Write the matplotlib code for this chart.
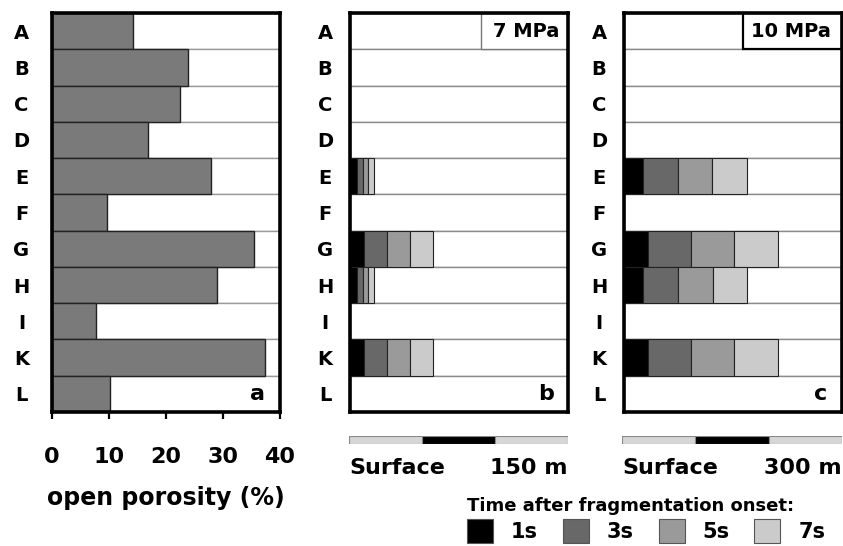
import numpy as np
import matplotlib
matplotlib.use("Agg")
import matplotlib.pyplot as plt
from matplotlib.patches import Patch, Rectangle
import matplotlib.transforms as mtransforms

plt.rcParams['font.family'] = ['DejaVu Sans']
plt.rcParams['font.weight'] = 'bold'
plt.rcParams['axes.labelweight'] = 'bold'

# samples (no J)
rows = ['A', 'B', 'C', 'D', 'E', 'F', 'G', 'H', 'I', 'K', 'L']
porosity = [14.2, 23.9, 22.5, 16.8, 27.9, 9.6, 35.4, 28.9, 7.7, 37.4, 10.2]
porosity_ticks = [0, 10, 20, 30, 40]

# fragmentation front position (m) after each time step
times = ['1s', '3s', '5s', '7s']
front_7mpa_1s = [0, 0, 0, 0, 4.8, 0, 9.6, 4.8, 0, 9.6, 0]
front_7mpa_3s = [0, 0, 0, 0, 9.0, 0, 25.5, 9.0, 0, 25.5, 0]
front_7mpa_5s = [0, 0, 0, 0, 12.4, 0, 41.0, 12.4, 0, 41.0, 0]
front_7mpa_7s = [0, 0, 0, 0, 16.5, 0, 57.0, 16.5, 0, 57.0, 0]
front_10mpa_1s = [0, 0, 0, 0, 26, 0, 33, 26, 0, 33, 0]
front_10mpa_3s = [0, 0, 0, 0, 74, 0, 92, 74, 0, 92, 0]
front_10mpa_5s = [0, 0, 0, 0, 121, 0, 151, 122, 0, 151, 0]
front_10mpa_7s = [0, 0, 0, 0, 169, 0, 212, 169, 0, 212, 0]

# scale bars (m)
scale_7mpa = [0, 50, 100, 150]
scale_10mpa = [0, 100, 200, 300]

time_colors = ['#000000', '#686868', '#9a9a9a', '#cbcbcb']
W, H = 843, 546
fig = plt.figure(figsize=(W / 100, H / 100), dpi=100)


def px_axes(x0, y0, x1, y1):
    return fig.add_axes([x0 / W, 1 - y1 / H, (x1 - x0) / W, (y1 - y0) / H])


def setup_rows(ax, pad):
    y = np.arange(len(rows))
    ax.set_ylim(len(rows) - 0.5, -0.5)
    ax.set_yticks(y, rows)
    ax.tick_params(axis='y', length=0, pad=pad, labelsize=14)
    for t in ax.get_yticklabels():
        t.set_ha('center')
    for s in ax.spines.values():
        s.set_linewidth(2.6)
        s.set_color('black')
        s.set_zorder(5)
    return y


# ---- panel a: open porosity
ax_a = px_axes(52, 13, 280, 412)
y = setup_rows(ax_a, 22)
ax_a.set_xlim(porosity_ticks[0], porosity_ticks[-1])
ax_a.barh(y, porosity_ticks[-1], height=1, color='white', edgecolor='#9a9a9a', lw=1)
ax_a.barh(y, porosity, height=1, color='#7a7a7a', edgecolor='#222222', lw=1)
ax_a.set_xticks(porosity_ticks)
ax_a.tick_params(axis='x', direction='out', length=5, width=1.6, pad=20, labelsize=16)
ax_a.set_xlabel('open porosity (%)', fontsize=17, fontweight='bold', labelpad=14)
ax_a.text(0.9, len(rows) - 1, 'a', transform=mtransforms.blended_transform_factory(ax_a.transAxes, ax_a.transData),
          ha='center', va='center', fontsize=16)


def frag_panel(ax, fronts, scale, label, box_x, box_edge, box_lw, text_x, letter):
    y = setup_rows(ax, 18)
    xmax = scale[-1]
    ax.set_xlim(0, xmax)
    ax.set_xticks([])
    ax.barh(y, xmax, height=1, color='white', edgecolor='#8a8a8a', lw=1)
    prev = np.zeros(len(rows))
    for front, c in zip(fronts, time_colors):
        front = np.array(front, dtype=float)
        m = front > 0
        ax.barh(y[m], (front - prev)[m], left=prev[m], height=1, color=c, edgecolor='#222222', lw=0.8)
        prev = front
    tr = mtransforms.blended_transform_factory(ax.transAxes, ax.transData)
    ax.add_patch(Rectangle((box_x, -0.5), 1 - box_x, 1, transform=tr, facecolor='white',
                           edgecolor=box_edge, lw=box_lw, zorder=4))
    ax.text(text_x, 0, label, transform=tr, ha='center', va='center', fontsize=14, zorder=6)
    ax.text(0.9, len(rows) - 1, letter, transform=tr, ha='center', va='center', fontsize=16)


def scale_bar(ax, scale, right_label):
    ax.set_xlim(scale[0], scale[-1])
    ax.set_ylim(-0.5, 0.5)
    lefts = scale[:-1]
    widths = np.diff(scale)
    ax.barh(0, widths, left=lefts, height=1, color=['#d6d6d6', 'black', '#d6d6d6'], edgecolor='#888888', lw=0.8)
    ax.axis('off')
    ax.annotate('Surface', xy=(0, 0), xycoords='axes fraction', xytext=(0, -10), textcoords='offset points',
                ha='left', va='top', fontsize=16)
    ax.annotate(right_label, xy=(1, 0), xycoords='axes fraction', xytext=(0, -10), textcoords='offset points',
                ha='right', va='top', fontsize=16)


# ---- panel b: 7 MPa
ax_b = px_axes(350, 13, 568, 412)
frag_panel(ax_b, [front_7mpa_1s, front_7mpa_3s, front_7mpa_5s, front_7mpa_7s], scale_7mpa,
           '7 MPa', 0.6, '#777777', 1.0, 0.807, 'b')
scale_bar(px_axes(349, 436, 568, 444), scale_7mpa, '150 m')

# ---- panel c: 10 MPa
ax_c = px_axes(624, 13, 842, 412)
frag_panel(ax_c, [front_10mpa_1s, front_10mpa_3s, front_10mpa_5s, front_10mpa_7s], scale_10mpa,
           '10 MPa', 0.546, 'black', 1.6, 0.765, 'c')
scale_bar(px_axes(622, 436, 842, 444), scale_10mpa, '300 m')

# ---- legend
handles = [Patch(facecolor=c, edgecolor='#555555', lw=0.8) for c in time_colors]
fig.legend(handles, times, ncol=4, loc='upper left', bbox_to_anchor=(467 / W, 1 - 497 / H),
           frameon=False, fontsize=15, title='Time after fragmentation onset:',
           title_fontproperties={'weight': 'bold', 'size': 13}, alignment='left',
           handlelength=1.25, handleheight=1.4, handletextpad=0.85, columnspacing=1.2,
           borderpad=0, borderaxespad=0, labelspacing=0.2)

fig.savefig('out.png', dpi=100)
